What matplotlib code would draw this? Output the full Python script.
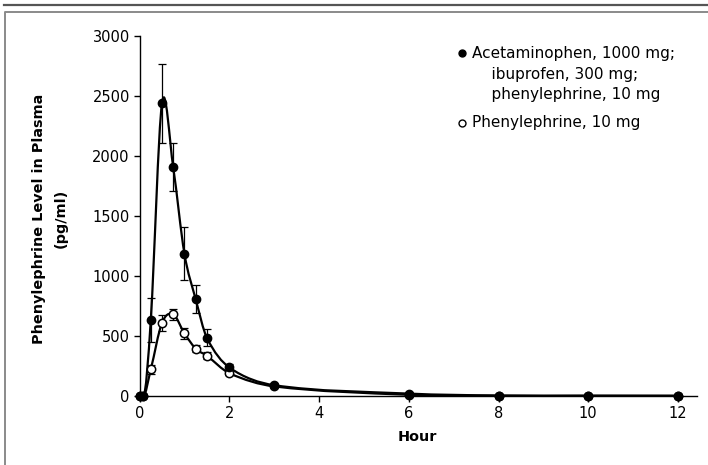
import matplotlib
matplotlib.use("Agg")
import matplotlib.pyplot as plt
from matplotlib.lines import Line2D
from matplotlib.path import Path
from matplotlib.patches import PathPatch
import numpy as np

# sampling times (hours)
hours = [0, 0.083, 0.25, 0.5, 0.75, 1.0, 1.25, 1.5, 2, 3, 6, 8, 10, 12]

# combination dose: acetaminophen + ibuprofen + phenylephrine
combo_mean = [0, 0, 635, 2440, 1905, 1185, 808, 485, 238, 90, 20, 4, 3, 2]
combo_err = [0, 0, 185, 330, 200, 220, 120, 70, 30, 12, 5, 0, 0, 0]

# phenylephrine alone
phe_mean = [0, 0, 222, 610, 680, 522, 395, 335, 190, 80, 10, 2, 1, 1]
phe_err = [0, 0, 38, 67, 45, 45, 30, 30, 15, 8, 3, 0, 0, 0]

combo_label = "Acetaminophen, 1000 mg;\n    ibuprofen, 300 mg;\n    phenylephrine, 10 mg"
phe_label = "Phenylephrine, 10 mg"

plt.rcParams["font.family"] = ["DejaVu Sans"]


def smooth_path(x, y):
    """Cubic Bezier path through the points (Catmull-Rom style tangents)."""
    x = np.asarray(x, float)
    y = np.asarray(y, float)
    d = np.diff(y) / np.diff(x)
    m = np.empty_like(y)
    m[0], m[-1] = d[0], d[-1]
    for i in range(1, len(x) - 1):
        if d[i - 1] == 0 or d[i] == 0:
            m[i] = 0.0
        else:
            m[i] = (y[i + 1] - y[i - 1]) / (x[i + 1] - x[i - 1])
    verts = [(x[0], y[0])]
    codes = [Path.MOVETO]
    for i in range(len(x) - 1):
        h = x[i + 1] - x[i]
        verts += [
            (x[i] + h / 3, y[i] + m[i] * h / 3),
            (x[i + 1] - h / 3, y[i + 1] - m[i + 1] * h / 3),
            (x[i + 1], y[i + 1]),
        ]
        codes += [Path.CURVE4] * 3
    return Path(verts, codes)


def fx(px):
    return px / 708


def fy(py):
    return 1 - py / 465


fig = plt.figure(figsize=(7.08, 4.65), dpi=100)
ax = fig.add_axes([0.1927, 0.1484, 0.7915, 0.7742])

for mean in (phe_mean, combo_mean):
    ax.add_patch(PathPatch(smooth_path(hours, mean), fill=False,
                           lw=1.6, ec="black", clip_on=False, zorder=2))

ax.errorbar(hours, phe_mean, yerr=phe_err, fmt="none", ecolor="black",
            elinewidth=0.9, capsize=3, capthick=0.9, clip_on=False, zorder=3)
ax.errorbar(hours, combo_mean, yerr=combo_err, fmt="none", ecolor="black",
            elinewidth=0.9, capsize=3, capthick=0.9, clip_on=False, zorder=3)
ax.plot(hours, phe_mean, "o", ms=6, mfc="white", mec="black",
        mew=1.1, ls="none", clip_on=False, zorder=4)
ax.plot(hours, combo_mean, "o", ms=6, mfc="black", mec="black",
        ls="none", clip_on=False, zorder=5)

ax.set_xlim(-0.07, 12.42)
ax.set_ylim(0, 3000)
ax.set_xticks(range(0, 13, 2))
ax.set_yticks(range(0, 3001, 500))
ax.spines["top"].set_visible(False)
ax.spines["right"].set_visible(False)
ax.spines["left"].set_position(("data", 0))
ax.spines["left"].set_bounds(0, 3000)
for s in ("left", "bottom"):
    ax.spines[s].set_linewidth(1.0)
ax.tick_params(direction="out", length=4, width=1, labelsize=10.5, pad=3)

# legend keys drawn by hand so the marker sits on the first text line
fig.add_artist(Line2D([fx(462)], [fy(53)], marker="o", ms=5, mfc="black",
                      mec="black", ls="none", transform=fig.transFigure))
fig.add_artist(Line2D([fx(462)], [fy(123)], marker="o", ms=5, mfc="white",
                      mec="black", mew=1.0, ls="none", transform=fig.transFigure))
fig.text(fx(472), fy(46), combo_label, ha="left", va="top", fontsize=11,
         linespacing=1.47)
fig.text(fx(472), fy(123), phe_label, ha="left", va="center", fontsize=11)

fig.text(fx(49.5), 0.53, "Phenylephrine Level in Plasma\n(pg/ml)", rotation=90,
         ha="center", va="center", multialignment="center",
         fontsize=10.4, fontweight="bold", linespacing=1.7)
fig.text(0.59, 0.06, "Hour", ha="center", va="center",
         fontsize=10.4, fontweight="bold")

# outer frame
fig.add_artist(Line2D([fx(4), 1], [fy(5), fy(5)],
                      color="#555555", lw=1.6, transform=fig.transFigure))
fig.add_artist(Line2D([fx(5), fx(5), 1], [0, fy(12), fy(12)],
                      color="#8a8a8a", lw=1.4, transform=fig.transFigure))

fig.savefig("out.png", dpi=100)
